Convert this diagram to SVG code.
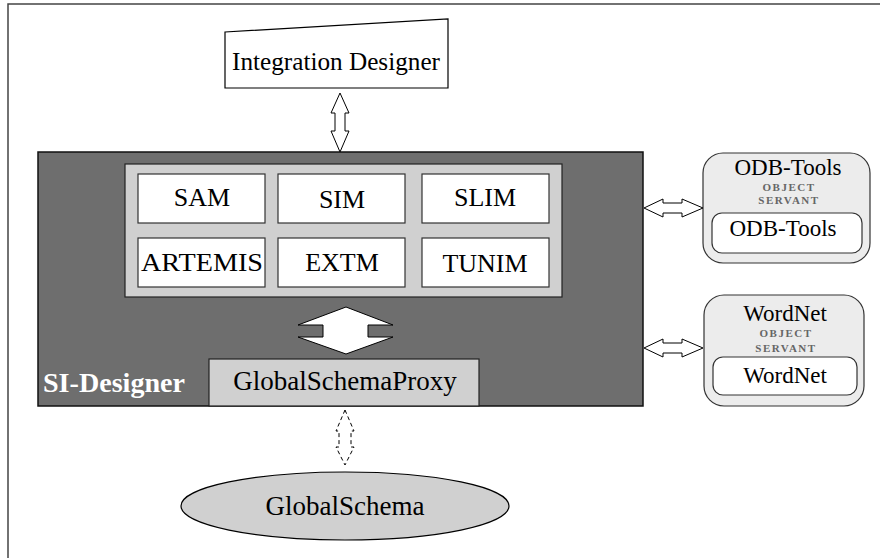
<svg xmlns="http://www.w3.org/2000/svg" width="880" height="558" viewBox="0 0 880 558">
<style>
  text { font-family: "Liberation Serif", "Times New Roman", "DejaVu Serif", serif; fill: #000; text-anchor: middle; }
  .mod { fill: #ffffff; stroke: #333; stroke-width: 1.2; }
  .mt { font-size: 26px; }
  .arrow { fill: #ffffff; stroke: #000; stroke-width: 1; stroke-linejoin: miter; }
  .serv { fill: #ececec; stroke: #333; stroke-width: 1.2; }
  .inner { fill: #ffffff; stroke: #333; stroke-width: 1.2; }
  .os { font-size: 11px; font-weight: bold; fill: #666; letter-spacing: 1.5px; }
  .st { font-size: 23px; }
</style>
<rect width="880" height="558" fill="#ffffff"/>
<rect x="8" y="4" width="900" height="600" fill="none" stroke="#444" stroke-width="1.5"/>

<g id="integration-designer">
  <polygon points="225,32 448,19 448,88 225,88" fill="#ffffff" stroke="#000" stroke-width="1.2"/>
  <text x="336" y="70" style="font-size:26px" textLength="208" lengthAdjust="spacingAndGlyphs">Integration Designer</text>
</g>

<g id="si-designer">
  <rect x="38" y="152" width="605" height="254" fill="#6e6e6e" stroke="#111" stroke-width="1.5"/>
  <text x="114" y="392" style="font-size:27px;font-weight:bold;fill:#ffffff" textLength="142" lengthAdjust="spacingAndGlyphs">SI-Designer</text>
</g>

<g id="modules">
  <rect x="125" y="164" width="437" height="133" fill="#d0d0d0" stroke="#222" stroke-width="1.2"/>
  <g id="sam"><rect class="mod" x="138" y="174" width="127" height="49"/><text class="mt" x="202" y="206">SAM</text></g>
  <g id="sim"><rect class="mod" x="278" y="174" width="127" height="49"/><text class="mt" x="342" y="208">SIM</text></g>
  <g id="slim"><rect class="mod" x="422" y="174" width="127" height="49"/><text class="mt" x="485" y="206">SLIM</text></g>
  <g id="artemis"><rect class="mod" x="138" y="238" width="127" height="49"/><text class="mt" x="202" y="271" textLength="122" lengthAdjust="spacingAndGlyphs">ARTEMIS</text></g>
  <g id="extm"><rect class="mod" x="278" y="238" width="127" height="49"/><text class="mt" x="342" y="271">EXTM</text></g>
  <g id="tunim"><rect class="mod" x="422" y="238" width="127" height="49"/><text class="mt" x="485" y="272">TUNIM</text></g>
</g>

<g id="global-schema-proxy">
  <rect x="209" y="359" width="270" height="47" fill="#d0d0d0" stroke="#222" stroke-width="1.2"/>
  <text x="345" y="390" style="font-size:27px">GlobalSchemaProxy</text>
</g>

<g id="odb-tools">
  <rect class="serv" x="703" y="153" width="167" height="110" rx="20" ry="20"/>
  <text class="st" x="788" y="175">ODB-Tools</text>
  <text class="os" x="789" y="191">OBJECT</text>
  <text class="os" x="789" y="204">SERVANT</text>
  <rect class="inner" x="712" y="213" width="150" height="40" rx="10" ry="10"/>
  <text class="st" x="783" y="236">ODB-Tools</text>
</g>

<g id="wordnet">
  <rect class="serv" x="704" y="295" width="160" height="111" rx="20" ry="20"/>
  <text class="st" x="785" y="321">WordNet</text>
  <text class="os" x="786" y="337">OBJECT</text>
  <text class="os" x="786" y="352">SERVANT</text>
  <rect class="inner" x="713" y="357" width="144" height="38" rx="10" ry="10"/>
  <text class="st" x="785" y="383">WordNet</text>
</g>

<g id="global-schema">
  <ellipse cx="345" cy="506" rx="164" ry="34" fill="#d0d0d0" stroke="#000" stroke-width="1.2"/>
  <text x="345" y="515" style="font-size:27px">GlobalSchema</text>
</g>

<g id="connectors">
  <polygon class="arrow" points="340,93 349,113 345,113 345,131 349,131 340,152 331,131 335,131 335,113 331,113"/>
  <polygon class="arrow" points="644,208 663,199 663,203 682,203 682,199 703,208 682,217 682,213 663,213 663,217"/>
  <polygon class="arrow" points="644,348 663,339 663,343 682,343 682,339 703,348 682,357 682,353 663,353 663,357"/>
  <polygon class="arrow" points="346,307 393,325 368,325 368,337 393,337 346,354 298,337 323,337 323,325 298,325"/>
  <polygon class="arrow" stroke-dasharray="4,3" points="345,410 354,431 351,431 351,447 354,447 345,465 336,447 339,447 339,431 336,431"/>
</g>
</svg>
